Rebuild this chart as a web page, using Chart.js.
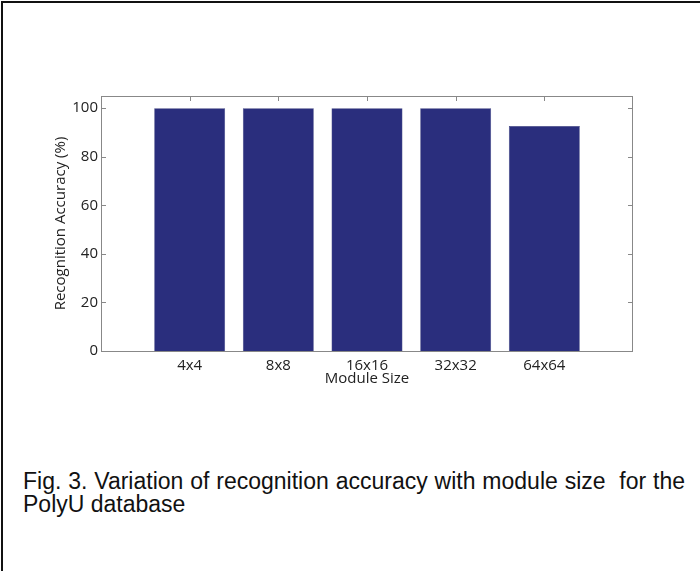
<!DOCTYPE html>
<html>
<head>
<meta charset="utf-8">
<script src="https://cdn.jsdelivr.net/npm/chart.js@4/dist/chart.umd.min.js"></script>
<style>
  html, body { margin: 0; padding: 0; background: #fff; overflow: hidden; }
  #page { position: relative; width: 700px; height: 571px; overflow: hidden; }
  .rule { position: absolute; background: #111; }
  #chart { position: absolute; left: 0; top: 0; }
  #caption { position: absolute; left: 23px; top: 470px; width: 662px;
             font-family: 'Liberation Sans Narrow', 'Arial Narrow', sans-serif; font-size: 23px;
             line-height: 23px; color: #111; text-align: justify; }
</style>
</head>
<body>
<div id="page">
  <div class="rule" style="left:1px; top:1px; width:699px; height:2px"></div>
  <div class="rule" style="left:1px; top:1px; width:2px; height:570px"></div>
  <canvas id="chart" width="700" height="400"></canvas>
  <div id="caption">Fig. 3. Variation of recognition accuracy with module size&nbsp; for the PolyU database</div>
</div>
<script>
// values
const categories = ['4x4', '8x8', '16x16', '32x32', '64x64']
const accuracy = [100, 100, 100, 100, 92.6]
const yTicks = [0, 20, 40, 60, 80, 100]

// one empty slot each side, like matlab's bar() axis limits
const labels = [''].concat(categories, [''])
const values = [null].concat(accuracy, [null])

const boxColor = '#888'
const textColor = '#222'

// matlab style axes box with inward ticks
const matlabBox = {
    id: 'matlabBox',
    beforeDatasetsDraw(chart) {
        const ctx = chart.ctx
        const a = chart.chartArea
        const x = chart.scales.x
        const y = chart.scales.y
        ctx.save()
        ctx.strokeStyle = boxColor
        ctx.lineWidth = 1
        ctx.strokeRect(a.left + 0.5, a.top + 0.5, a.right - a.left - 1, a.bottom - a.top)
        ctx.beginPath()
        for (let v of yTicks) {
            const py = Math.round(y.getPixelForValue(v)) + 0.5
            ctx.moveTo(a.left, py); ctx.lineTo(a.left + 5, py)
            ctx.moveTo(a.right - 5, py); ctx.lineTo(a.right, py)
        }
        for (let i = 0; i < categories.length; i++) {
            const px = Math.round(x.getPixelForValue(i + 1)) + 0.5
            ctx.moveTo(px, a.top); ctx.lineTo(px, a.top + 5)
            ctx.moveTo(px, a.bottom - 5); ctx.lineTo(px, a.bottom)
        }
        ctx.stroke()
        ctx.restore()
    }
}

Chart.defaults.font.family = "'Open Sans', sans-serif"
Chart.defaults.font.size = 15
Chart.defaults.color = textColor

const chart = new Chart('chart', {
    type: 'bar',
    data: {
        labels: labels,
        datasets: [{
            label: 'Recognition Accuracy',
            data: values,
            backgroundColor: '#2a2e7d',
            borderColor: '#23276b',
            borderWidth: 0.5,
            categoryPercentage: 1,
            barPercentage: 0.8
        }]
    },
    options: {
        responsive: false,
        animation: false,
        devicePixelRatio: 1,
        layout: { padding: { top: 96, right: 67, left: 0, bottom: 0 } },
        plugins: { legend: { display: false }, tooltip: { enabled: false } },
        scales: {
            x: {
                type: 'category',
                offset: false,
                grid: { display: false, drawTicks: false },
                border: { display: false },
                ticks: { autoSkip: false, maxRotation: 0, padding: 6, color: textColor },
                title: { display: true, text: 'Module Size', color: textColor, padding: { top: 0, bottom: 12 } },
                afterFit: function (scale) { scale.height = 49 }
            },
            y: {
                min: 0,
                max: 105,
                grid: { display: false, drawTicks: false },
                border: { display: false },
                ticks: { stepSize: 20, includeBounds: false, padding: 3, color: textColor },
                title: { display: true, text: 'Recognition Accuracy (%)', color: textColor, padding: { top: 52, bottom: 0 } },
                afterFit: function (scale) { scale.width = 101 }
            }
        }
    },
    plugins: [matlabBox]
})
</script>
</body>
</html>
